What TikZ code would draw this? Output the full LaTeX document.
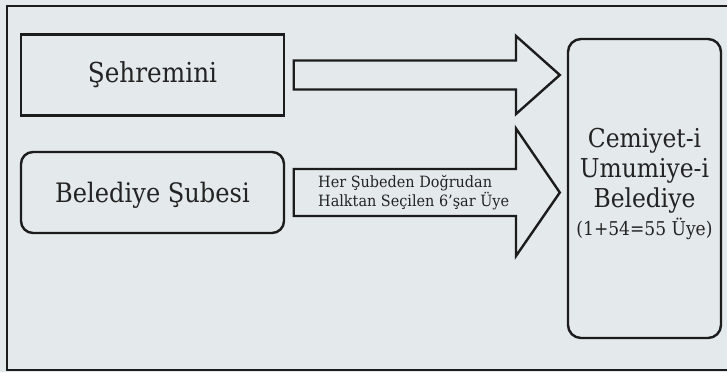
\documentclass[tikz,border=0pt]{standalone}
\usepackage{fontspec}
\setmainfont{DejaVu Serif}[FakeStretch=0.9]
\newfontfamily\labelfont{DejaVu Serif}[FakeStretch=0.93]
\definecolor{bg}{RGB}{228,233,235}
\definecolor{ink}{RGB}{28,28,28}
\definecolor{txt}{RGB}{35,35,35}
\tikzset{
  boxsq/.style={draw=ink, line width=2.4pt, text=txt, inner sep=0pt},
  boxrd/.style={boxsq, rounded corners=12pt},
  bigarrow/.style={draw=ink, line width=2.4pt, line join=miter},
  bigtxt/.style={text=txt, font=\fontsize{26}{30}\selectfont, inner sep=0pt, anchor=base},
  smalltxt/.style={text=txt, font=\labelfont\fontsize{15.5}{19}\selectfont, inner sep=0pt, anchor=base west},
}
\begin{document}
\begin{tikzpicture}[x=1pt,y=-1pt]
\useasboundingbox (0,0) rectangle (727,372);
\fill[bg] (0,0) rectangle (727,372);
\draw[ink, line width=2.8pt] (7,6) rectangle (745,370);

% left boxes
\node[boxsq, minimum width=263pt, minimum height=81pt] (seh) at (152.5,75) {};
\node[bigtxt, font=\fontsize{27.5}{30}\selectfont] (sehT) at (152.5,82) {Şehremini};
\node[boxrd, minimum width=263pt, minimum height=81pt] (sube) at (152.5,192.5) {};
\node[bigtxt, font=\fontsize{26.8}{30}\selectfont] (subeT) at (152.5,202) {Belediye Şubesi};

% right box
\node[boxrd, rounded corners=13pt, minimum width=153pt, minimum height=299pt] (cem) at (644.5,188.5) {};
\node[bigtxt] (c1) at (644.5,147) {Cemiyet-i};
\node[bigtxt] (c2) at (644.5,177) {Umumiye-i};
\node[bigtxt] (c3) at (644.5,207) {Belediye};
\node[bigtxt, font=\fontsize{19}{23}\selectfont] (c4) at (644.5,235) {(1+54=55 Üye)};

% arrows
\coordinate (a1s) at ([xshift=8.5pt]seh.east);
\coordinate (a1e) at ([xshift=-7pt]cem.west |- seh.east);
\draw[bigarrow] ([yshift=14.5pt]a1s) -- (516,60.5) -- (516,36) -- (a1e) -- (516,114) -- (516,89.5) -- ([yshift=-14.5pt]a1s) -- cycle;

\coordinate (a2s) at ([xshift=8.5pt]sube.east);
\coordinate (a2e) at ([xshift=-7pt]cem.west |- sube.east);
\draw[bigarrow] ([yshift=23.5pt]a2s) -- (516,169) -- (516,128.5) -- (a2e) -- (516,256) -- (516,216) -- ([yshift=-23.5pt]a2s) -- cycle;

\node[smalltxt] (l1) at (318,187) {Her Şubeden Doğrudan};
\node[smalltxt] (l2) at (318,206) {Halktan Seçilen 6’şar Üye};
\end{tikzpicture}
\end{document}
